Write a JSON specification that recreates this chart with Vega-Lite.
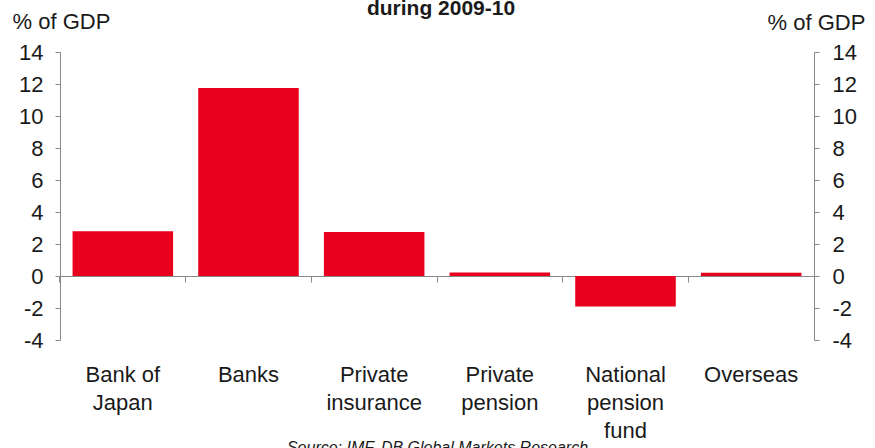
{
  "$schema": "https://vega.github.io/schema/vega-lite/v6.json",
  "width": 754,
  "height": 288,
  "autosize": {"type": "none"},
  "padding": {"left": 60, "top": 52, "right": 61, "bottom": 108},
  "background": "white",
  "title": {
    "text": "during 2009-10",
    "frame": "group",
    "anchor": "middle",
    "baseline": "alphabetic",
    "offset": 0,
    "dy": 26,
    "dx": 4,
    "fontSize": 21,
    "fontWeight": "bold",
    "font": "Liberation Sans",
    "color": "#1a1a1a"
  },
  "data": {
    "values": [
      {"sector": "Bank of Japan", "label": "Bank of|Japan", "value": 2.8},
      {"sector": "Banks", "label": "Banks", "value": 11.75},
      {"sector": "Private insurance", "label": "Private|insurance", "value": 2.75},
      {"sector": "Private pension", "label": "Private|pension", "value": 0.22},
      {"sector": "National pension fund", "label": "National|pension|fund", "value": -1.9},
      {"sector": "Overseas", "label": "Overseas", "value": 0.2}
    ]
  },
  "layer": [
    {
      "mark": {"type": "bar", "color": "#E8001C"},
      "encoding": {
        "x": {
          "field": "label",
          "type": "nominal",
          "sort": null,
          "scale": {"paddingInner": 0.2, "paddingOuter": 0.1},
          "axis": {
            "orient": "bottom",
            "domain": false,
            "ticks": false,
            "labelAngle": 0,
            "labelExpr": "split(datum.label, '|')",
            "labelPadding": 24,
            "labelLineHeight": 28,
            "labelFontSize": 22,
            "labelFont": "Liberation Sans",
            "labelColor": "#1a1a1a",
            "title": "Source: IMF, DB Global Markets Research",
            "titleFontStyle": "italic",
            "titleFontWeight": "normal",
            "titleFontSize": 16,
            "titleFont": "Liberation Sans",
            "titleColor": "#1a1a1a",
            "titleBaseline": "alphabetic",
            "titleY": 112,
            "titleAnchor": "middle"
          }
        },
        "y": {
          "field": "value",
          "type": "quantitative",
          "scale": {"domain": [-4, 14], "nice": false, "zero": false},
          "axis": {
            "orient": "left",
            "values": [-4, -2, 0, 2, 4, 6, 8, 10, 12, 14],
            "labelExpr": "'' + datum.value",
            "grid": false,
            "tickSize": 5,
            "labelPadding": 12,
            "labelFontSize": 22,
            "labelFont": "Liberation Sans",
            "labelColor": "#1a1a1a",
            "labelFlush": false,
            "labelOverlap": false,
            "domainColor": "#888888",
            "tickColor": "#888888",
            "title": "% of GDP",
            "titleAngle": 0,
            "titleAlign": "left",
            "titleBaseline": "alphabetic",
            "titleX": -48,
            "titleY": -24,
            "titleFontSize": 22,
            "titleFontWeight": "normal",
            "titleFont": "Liberation Sans",
            "titleColor": "#1a1a1a"
          }
        }
      }
    },
    {
      "mark": {"type": "bar", "opacity": 0},
      "encoding": {
        "x": {
          "field": "label",
          "type": "nominal",
          "sort": null,
          "axis": {
            "orient": "bottom",
            "offset": -64,
            "labels": false,
            "ticks": true,
            "tickSize": 6,
            "bandPosition": -0.125,
            "domainColor": "#888888",
            "tickColor": "#888888",
            "title": null,
            "zindex": 0
          }
        },
        "y": {
          "field": "value",
          "type": "quantitative",
          "axis": {
            "orient": "right",
            "values": [-4, -2, 0, 2, 4, 6, 8, 10, 12, 14],
            "labelExpr": "'' + datum.value",
            "grid": false,
            "tickSize": 5,
            "labelPadding": 13,
            "labelFontSize": 22,
            "labelFont": "Liberation Sans",
            "labelColor": "#1a1a1a",
            "labelFlush": false,
            "labelOverlap": false,
            "domainColor": "#888888",
            "tickColor": "#888888",
            "title": "% of GDP",
            "titleAngle": 0,
            "titleAlign": "left",
            "titleBaseline": "alphabetic",
            "titleX": -47,
            "titleY": -23,
            "titleFontSize": 22,
            "titleFontWeight": "normal",
            "titleFont": "Liberation Sans",
            "titleColor": "#1a1a1a"
          }
        }
      }
    }
  ],
  "resolve": {"axis": {"x": "independent", "y": "independent"}},
  "config": {"view": {"stroke": null}}
}
